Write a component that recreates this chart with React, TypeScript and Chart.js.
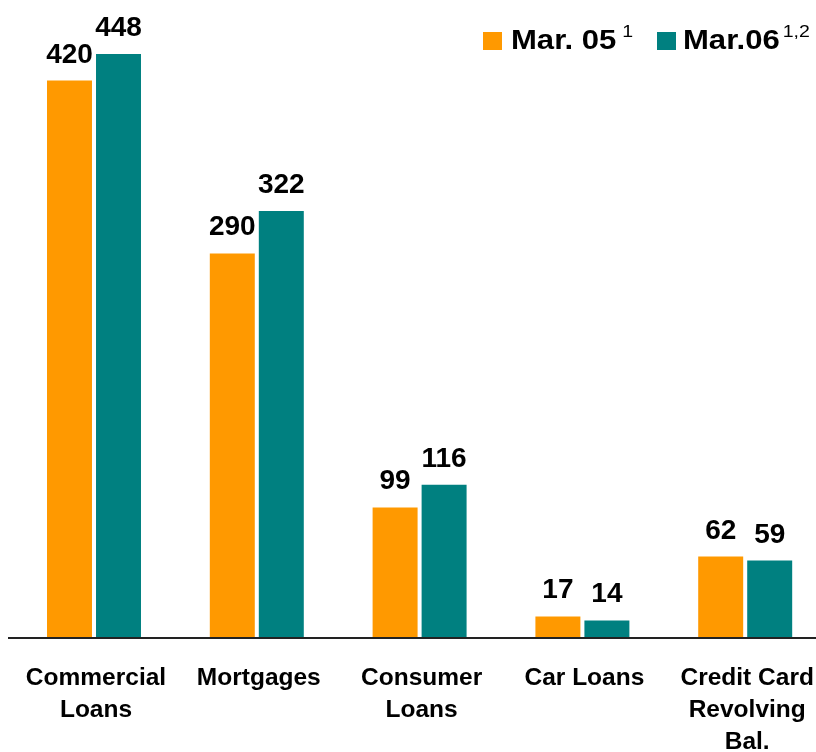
import { useEffect, useRef } from "react";
import { Chart, registerables } from "chart.js";

Chart.register(...registerables);

// ---- data ----
const categories: string[][] = [
  ["Commercial", "Loans"],
  ["Mortgages"],
  ["Consumer", "Loans"],
  ["Car Loans"],
  ["Credit Card", "Revolving", "Bal."],
];
const mar05: number[] = [420, 290, 99, 17, 62];
const mar06: number[] = [448, 322, 116, 14, 59];
const seriesNames: string[] = ["Mar. 05", "Mar.06"];
const seriesNotes: string[] = ["1", "1,2"];
const yMax = 440;

const ORANGE = "#FF9900";
const TEAL = "#008080";
const FONT = '"Liberation Sans", Arial, Helvetica, sans-serif';

function stretchedText(
  ctx: CanvasRenderingContext2D,
  text: string,
  x: number,
  y: number,
  font: string,
  sx: number,
  align: CanvasTextAlign
) {
  ctx.save();
  ctx.font = font;
  ctx.textAlign = align;
  ctx.textBaseline = "alphabetic";
  ctx.translate(x, y);
  ctx.scale(sx, 1);
  ctx.fillText(text, 0, 0);
  ctx.restore();
}

const textPlugin = {
  id: "customText",
  afterDatasetsDraw(chart: any) {
    const ctx: CanvasRenderingContext2D = chart.ctx;
    const area = chart.chartArea;
    // axis line
    ctx.save();
    ctx.fillStyle = "#222";
    ctx.fillRect(8, area.bottom - 2, chart.width, 2);
    ctx.restore();

    ctx.fillStyle = "#000";
    // data labels
    chart.data.datasets.forEach((ds: any, di: number) => {
      const meta = chart.getDatasetMeta(di);
      meta.data.forEach((bar: any, i: number) => {
        const top = Math.max(bar.y, area.top);
        stretchedText(ctx, String(ds.data[i]), bar.x, top - 18, `bold 28px ${FONT}`, 1.0, "center");
      });
    });

    // category labels
    const xs = chart.scales.x;
    categories.forEach((lines, i) => {
      const cx = xs.getPixelForTick(i) + 2;
      lines.forEach((line, li) => {
        stretchedText(ctx, line, cx, 685 + li * 32, `bold 24.5px ${FONT}`, 1.0, "center");
      });
    });

    // legend
    const colors = [ORANGE, TEAL];
    const boxX = [483, 657];
    const textX = [511, 683];
    const gaps = [6, 3];
    seriesNames.forEach((name, i) => {
      ctx.fillStyle = colors[i];
      ctx.fillRect(boxX[i], 32, 19, 18);
      ctx.fillStyle = "#000";
      const f = `bold 27px ${FONT}`;
      const sx = 1.15;
      stretchedText(ctx, name, textX[i], 49, f, sx, "left");
      ctx.save();
      ctx.font = f;
      const w = ctx.measureText(name).width * sx;
      ctx.restore();
      stretchedText(ctx, seriesNotes[i], textX[i] + w + gaps[i], 36.5, `16px ${FONT}`, 1.22, "left");
    });
  },
};

export default function App() {
  const ref = useRef<HTMLCanvasElement>(null);
  useEffect(() => {
    const chart = new Chart(ref.current!, {
      type: "bar",
      data: {
        labels: categories,
        datasets: [
          { label: seriesNames[0], data: mar05, backgroundColor: ORANGE, clip: 0 } as any,
          { label: seriesNames[1], data: mar06, backgroundColor: TEAL, clip: 0 } as any,
        ],
      },
      options: {
        responsive: false,
        animation: false,
        devicePixelRatio: 1,
        layout: { padding: { left: 12.6, right: 3.4, top: 54, bottom: 113 } },
        datasets: { bar: { categoryPercentage: 0.602, barPercentage: 0.918 } },
        scales: {
          x: { display: false },
          y: { display: false, min: 0, max: yMax },
        },
        plugins: { legend: { display: false }, tooltip: { enabled: false } },
      },
      plugins: [textPlugin],
    });
    return () => chart.destroy();
  }, []);
  return (
    <div
      style={{
        position: "fixed",
        left: 0,
        top: 0,
        width: 816,
        height: 752,
        overflow: "hidden",
        background: "#fff",
      }}
    >
      <canvas ref={ref} width={830} height={752} style={{ display: "block" }} />
    </div>
  );
}
